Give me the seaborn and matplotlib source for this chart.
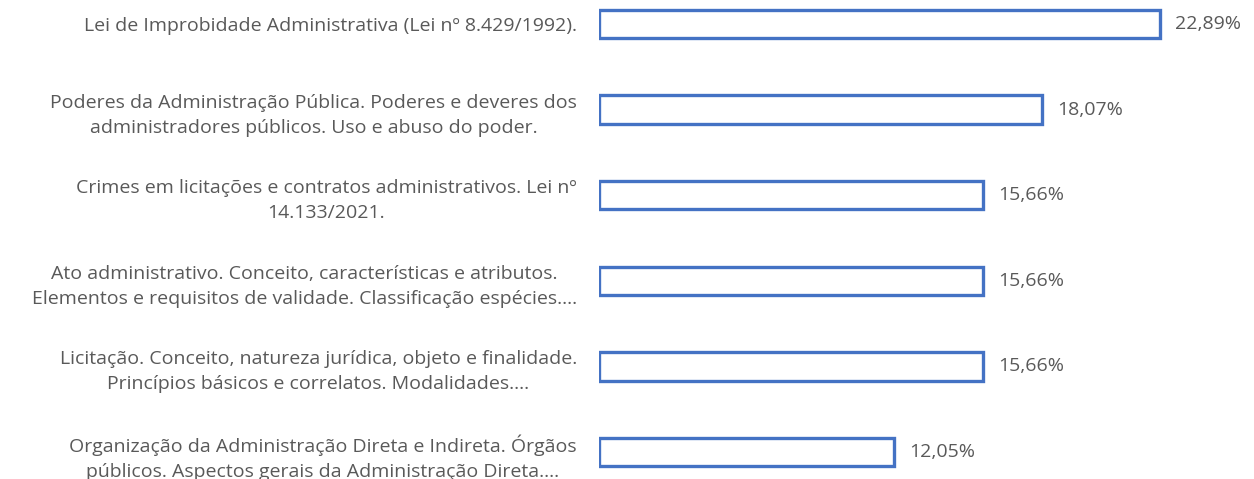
import matplotlib
matplotlib.use("Agg")
import matplotlib.pyplot as plt
import seaborn as sns
import pandas as pd

categories = [
    "Lei de Improbidade Administrativa (Lei nº 8.429/1992).",
    "Poderes da Administração Pública. Poderes e deveres dos\nadministradores públicos. Uso e abuso do poder.",
    "Crimes em licitações e contratos administrativos. Lei nº\n14.133/2021.",
    "Ato administrativo. Conceito, características e atributos.\nElementos e requisitos de validade. Classificação espécies....",
    "Licitação. Conceito, natureza jurídica, objeto e finalidade.\nPrincípios básicos e correlatos. Modalidades....",
    "Organização da Administração Direta e Indireta. Órgãos\npúblicos. Aspectos gerais da Administração Direta....",
]
values = [22.89, 18.07, 15.66, 15.66, 15.66, 12.05]
value_labels = ["22,89%", "18,07%", "15,66%", "15,66%", "15,66%", "12,05%"]

sns.set_theme(style="white")
plt.rcParams["font.family"] = ["Open Sans", "DejaVu Sans"]

df = pd.DataFrame({"cat": categories, "val": values})

fig = plt.figure(figsize=(12.54, 4.79), dpi=100)
ax = fig.add_axes([599 / 1254, 0.0, (1241 - 599) / 1254, 1.0])

sns.barplot(data=df, y="cat", x="val", orient="h", ax=ax,
            color="white", edgecolor="#4472C4", linewidth=2.4, width=0.33)

ax.set_xlim(0, (1241 - 599) / 24.5)
ax.set_ylim(5 + 27 / 85.6, -24 / 85.6)
ax.set_xlabel("")
ax.set_ylabel("")
ax.set_xticks([])
for s in ax.spines.values():
    s.set_visible(False)

ax.tick_params(axis="y", length=0, pad=16, labelsize=14, labelcolor="#595959")
for t in ax.get_yticklabels():
    t.set_multialignment("center")
    t.set_linespacing(1.5)

for i, (v, lab) in enumerate(zip(values, value_labels)):
    ax.annotate(lab, xy=(v, i), xytext=(11, 0), textcoords="offset points",
                va="center", ha="left", fontsize=14, color="#595959",
                annotation_clip=False)

fig.savefig("out.png", dpi=100)
